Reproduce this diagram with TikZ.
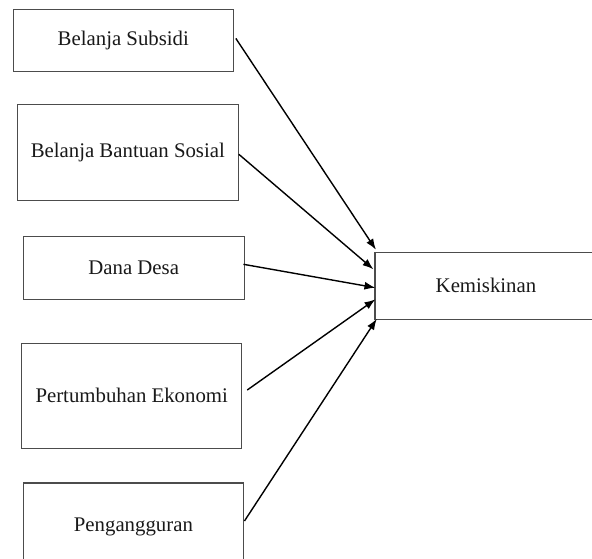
\documentclass[tikz,border=0pt]{standalone}
\usepackage{fontspec}
\setmainfont{Liberation Serif}
\usetikzlibrary{arrows.meta}
\begin{document}
\begin{tikzpicture}[x=1pt,y=-1pt,
  varbox/.style={draw=black!70, line width=1.1pt, fill=white, inner sep=0pt,
    text=black!90, font=\fontsize{20.8}{24}\selectfont},
  link/.style={draw=black, line width=1.4pt, -{Latex[length=11pt,width=8pt]}}]
  \useasboundingbox (0,0) rectangle (592,558);

  % independent variables
  \node[varbox, minimum width=220pt, minimum height=62pt]  (b1) at (123.3,40.4)  {Belanja Subsidi};
  \node[varbox, minimum width=221pt, minimum height=96pt]  (b2) at (127.8,152.9) {Belanja Bantuan Sosial};
  \node[varbox, minimum width=221pt, minimum height=63pt]  (b3) at (133.7,267.7) {Dana Desa};
  \node[varbox, minimum width=220pt, minimum height=105pt] (b4) at (131.7,395.8) {Pertumbuhan Ekonomi};
  \node[varbox, minimum width=220pt, minimum height=88pt]  (b5) at (133.4,527)   {Pengangguran};

  % dependent variable
  \node[varbox, minimum width=222pt, minimum height=67pt]  (k)  at (486,285.8)   {Kemiskinan};

  % effects
  \draw[link] ([xshift=2pt,yshift=2pt]b1.east) -- ([xshift=1.5pt,yshift=2pt]k.north west);
  \draw[link] ([yshift=-1.4pt]b2.east) -- ([xshift=-1pt,yshift=16.5pt]k.west);
  \draw[link] ([xshift=-1.3pt,yshift=3.4pt]b3.east) -- ([xshift=1pt,yshift=-1.9pt]k.west);
  \draw[link] ([xshift=5pt,yshift=5.8pt]b4.east) -- ([xshift=1pt,yshift=-13.5pt]k.west);
  \draw[link] ([xshift=0.5pt,yshift=6pt]b5.east) -- ([xshift=2.3pt,yshift=1pt]k.south west);
\end{tikzpicture}
\end{document}
